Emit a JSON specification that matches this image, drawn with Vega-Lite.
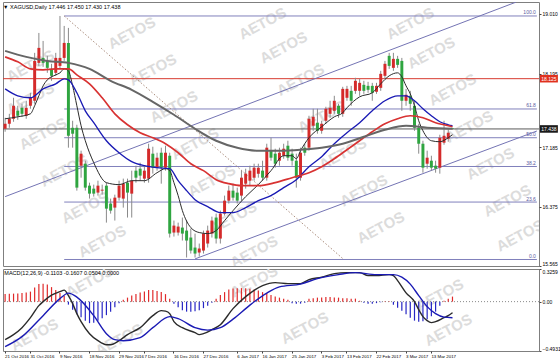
{
"$schema":"https://vega.github.io/schema/vega-lite/v6.json",
"background":"white",
"padding":{"left":0,"top":1,"right":0,"bottom":0},
"autosize":{"type":"pad"},
"spacing":1,
"config":{
 "font":"Liberation Sans",
 "view":{"stroke":"#7f7f7f","strokeWidth":1},
 "axis":{"labelFont":"Liberation Sans","labelFontSize":5,"labelColor":"#000000","tickColor":"#444444","tickSize":2,"domain":false,"grid":false,"labelPadding":1},
 "title":{"font":"Liberation Sans","fontSize":5.5,"fontWeight":"normal","color":"#000000","anchor":"start"}
},
"datasets":{
 "bars":[
{"d":"2016-10-21","o":17.441,"h":17.591,"l":17.4,"c":17.509,"m":0.075},
{"d":"2016-10-24","o":17.509,"h":17.645,"l":17.454,"c":17.577,"m":0.078},
{"d":"2016-10-25","o":17.577,"h":17.864,"l":17.536,"c":17.755,"m":0.08},
{"d":"2016-10-26","o":17.686,"h":17.755,"l":17.563,"c":17.618,"m":0.082},
{"d":"2016-10-27","o":17.727,"h":17.782,"l":17.604,"c":17.645,"m":0.085},
{"d":"2016-10-28","o":17.618,"h":17.823,"l":17.577,"c":17.727,"m":0.09},
{"d":"2016-10-31","o":17.755,"h":17.932,"l":17.714,"c":17.864,"m":0.1},
{"d":"2016-11-01","o":17.823,"h":18.478,"l":17.782,"c":18.368,"m":0.14},
{"d":"2016-11-02","o":18.341,"h":18.75,"l":18.3,"c":18.546,"m":0.175},
{"d":"2016-11-03","o":18.409,"h":18.641,"l":18.287,"c":18.341,"m":0.178},
{"d":"2016-11-04","o":18.368,"h":18.437,"l":18.205,"c":18.273,"m":0.17},
{"d":"2016-11-07","o":18.259,"h":18.328,"l":18.096,"c":18.164,"m":0.145},
{"d":"2016-11-08","o":18.205,"h":18.478,"l":18.164,"c":18.409,"m":0.115},
{"d":"2016-11-09","o":18.3,"h":18.982,"l":18.259,"c":18.409,"m":0.085},
{"d":"2016-11-10","o":18.409,"h":18.846,"l":18.368,"c":18.614,"m":0.055},
{"d":"2016-11-11","o":18.614,"h":18.819,"l":17.182,"c":17.345,"m":-0.03},
{"d":"2016-11-14","o":17.454,"h":17.55,"l":17.182,"c":17.373,"m":-0.08},
{"d":"2016-11-15","o":17.454,"h":17.495,"l":16.595,"c":16.636,"m":-0.125},
{"d":"2016-11-16","o":16.936,"h":17.141,"l":16.772,"c":17.1,"m":-0.155},
{"d":"2016-11-17","o":16.963,"h":17.004,"l":16.595,"c":16.636,"m":-0.19},
{"d":"2016-11-18","o":16.663,"h":16.704,"l":16.486,"c":16.554,"m":-0.215},
{"d":"2016-11-21","o":16.622,"h":16.677,"l":16.513,"c":16.554,"m":-0.21},
{"d":"2016-11-22","o":16.568,"h":16.731,"l":16.527,"c":16.663,"m":-0.19},
{"d":"2016-11-23","o":16.595,"h":16.677,"l":16.54,"c":16.608,"m":-0.165},
{"d":"2016-11-24","o":16.663,"h":16.704,"l":16.158,"c":16.349,"m":-0.135},
{"d":"2016-11-25","o":16.418,"h":16.486,"l":16.281,"c":16.322,"m":-0.1},
{"d":"2016-11-28","o":16.363,"h":16.54,"l":16.186,"c":16.499,"m":-0.055},
{"d":"2016-11-29","o":16.499,"h":16.731,"l":16.458,"c":16.663,"m":-0.015},
{"d":"2016-11-30","o":16.486,"h":16.759,"l":16.363,"c":16.69,"m":0.02},
{"d":"2016-12-01","o":16.704,"h":16.759,"l":16.227,"c":16.568,"m":0.04},
{"d":"2016-12-02","o":16.554,"h":16.868,"l":16.227,"c":16.731,"m":0.06},
{"d":"2016-12-05","o":16.868,"h":16.936,"l":16.704,"c":16.772,"m":0.075},
{"d":"2016-12-06","o":16.895,"h":16.977,"l":16.731,"c":16.8,"m":0.09},
{"d":"2016-12-07","o":16.759,"h":16.936,"l":16.704,"c":16.868,"m":0.1},
{"d":"2016-12-08","o":16.759,"h":17.236,"l":16.704,"c":17.168,"m":0.115},
{"d":"2016-12-09","o":17.1,"h":17.195,"l":16.827,"c":16.909,"m":0.115},
{"d":"2016-12-12","o":16.909,"h":17.113,"l":16.868,"c":17.045,"m":0.105},
{"d":"2016-12-13","o":17.113,"h":17.182,"l":16.69,"c":16.909,"m":0.095},
{"d":"2016-12-14","o":16.909,"h":17.209,"l":16.868,"c":17.113,"m":0.075},
{"d":"2016-12-15","o":17.072,"h":17.113,"l":15.954,"c":16.008,"m":0.03},
{"d":"2016-12-16","o":16.022,"h":16.186,"l":15.967,"c":16.117,"m":-0.02},
{"d":"2016-12-19","o":16.022,"h":16.158,"l":15.981,"c":16.104,"m":-0.055},
{"d":"2016-12-20","o":16.09,"h":16.227,"l":15.913,"c":16.008,"m":-0.085},
{"d":"2016-12-21","o":16.049,"h":16.186,"l":15.681,"c":15.913,"m":-0.1},
{"d":"2016-12-22","o":15.954,"h":16.076,"l":15.735,"c":15.776,"m":-0.1},
{"d":"2016-12-23","o":15.817,"h":16.008,"l":15.681,"c":15.735,"m":-0.095},
{"d":"2016-12-26","o":15.749,"h":15.872,"l":15.694,"c":15.804,"m":-0.085},
{"d":"2016-12-27","o":15.776,"h":16.049,"l":15.735,"c":16.008,"m":-0.065},
{"d":"2016-12-28","o":15.872,"h":16.117,"l":15.817,"c":16.049,"m":-0.04},
{"d":"2016-12-29","o":16.008,"h":16.24,"l":15.954,"c":16.186,"m":-0.01},
{"d":"2016-12-30","o":16.227,"h":16.281,"l":15.872,"c":15.94,"m":0.03},
{"d":"2017-01-02","o":15.94,"h":16.322,"l":15.872,"c":16.281,"m":0.065},
{"d":"2017-01-03","o":16.281,"h":16.527,"l":16.254,"c":16.458,"m":0.095},
{"d":"2017-01-04","o":16.458,"h":16.663,"l":16.418,"c":16.595,"m":0.12},
{"d":"2017-01-05","o":16.595,"h":16.69,"l":16.458,"c":16.499,"m":0.13},
{"d":"2017-01-06","o":16.568,"h":16.636,"l":16.418,"c":16.458,"m":0.133},
{"d":"2017-01-09","o":16.527,"h":16.868,"l":16.458,"c":16.772,"m":0.135},
{"d":"2017-01-10","o":16.69,"h":16.895,"l":16.622,"c":16.827,"m":0.133},
{"d":"2017-01-11","o":16.731,"h":16.936,"l":16.663,"c":16.868,"m":0.128},
{"d":"2017-01-12","o":16.772,"h":16.963,"l":16.731,"c":16.909,"m":0.12},
{"d":"2017-01-13","o":16.827,"h":16.963,"l":16.772,"c":16.909,"m":0.11},
{"d":"2017-01-16","o":16.868,"h":17.004,"l":16.731,"c":16.772,"m":0.095},
{"d":"2017-01-17","o":16.772,"h":17.236,"l":16.731,"c":17.182,"m":0.08},
{"d":"2017-01-18","o":17.141,"h":17.318,"l":17.004,"c":17.045,"m":0.065},
{"d":"2017-01-19","o":17.1,"h":17.168,"l":16.909,"c":16.963,"m":0.05},
{"d":"2017-01-20","o":17.004,"h":17.182,"l":16.936,"c":17.113,"m":0.04},
{"d":"2017-01-23","o":17.072,"h":17.236,"l":17.031,"c":17.168,"m":0.03},
{"d":"2017-01-24","o":17.209,"h":17.277,"l":17.004,"c":17.045,"m":0.02},
{"d":"2017-01-25","o":17.1,"h":17.168,"l":16.936,"c":17.004,"m":-0.015},
{"d":"2017-01-26","o":17.004,"h":17.1,"l":16.636,"c":16.772,"m":-0.02},
{"d":"2017-01-27","o":16.772,"h":17.182,"l":16.731,"c":17.113,"m":-0.02},
{"d":"2017-01-30","o":17.182,"h":17.236,"l":17.072,"c":17.113,"m":-0.01},
{"d":"2017-01-31","o":17.182,"h":17.618,"l":17.141,"c":17.577,"m":0.03},
{"d":"2017-02-01","o":17.482,"h":17.714,"l":17.413,"c":17.604,"m":0.035},
{"d":"2017-02-02","o":17.523,"h":17.714,"l":17.373,"c":17.413,"m":0.04},
{"d":"2017-02-03","o":17.413,"h":17.55,"l":17.373,"c":17.509,"m":0.04},
{"d":"2017-02-06","o":17.55,"h":17.741,"l":17.509,"c":17.714,"m":0.045},
{"d":"2017-02-07","o":17.645,"h":17.823,"l":17.591,"c":17.727,"m":0.045},
{"d":"2017-02-08","o":17.686,"h":17.891,"l":17.645,"c":17.823,"m":0.04},
{"d":"2017-02-09","o":17.755,"h":17.782,"l":17.591,"c":17.645,"m":0.04},
{"d":"2017-02-10","o":17.645,"h":18.014,"l":17.604,"c":17.986,"m":0.035},
{"d":"2017-02-13","o":17.864,"h":18.027,"l":17.823,"c":17.986,"m":0.035},
{"d":"2017-02-14","o":17.959,"h":18.027,"l":17.755,"c":17.823,"m":0.03},
{"d":"2017-02-15","o":17.959,"h":18.137,"l":17.918,"c":18.096,"m":0.03},
{"d":"2017-02-16","o":17.959,"h":18.123,"l":17.891,"c":18.068,"m":0.01},
{"d":"2017-02-17","o":18.041,"h":18.096,"l":17.918,"c":17.959,"m":-0.01},
{"d":"2017-02-20","o":18.027,"h":18.082,"l":17.932,"c":17.973,"m":-0.02},
{"d":"2017-02-21","o":18.027,"h":18.068,"l":17.823,"c":17.932,"m":-0.02},
{"d":"2017-02-22","o":17.946,"h":18.068,"l":17.918,"c":18.027,"m":-0.015},
{"d":"2017-02-23","o":18.0,"h":18.232,"l":17.959,"c":18.191,"m":-0.005},
{"d":"2017-02-24","o":18.164,"h":18.368,"l":18.123,"c":18.328,"m":0.004},
{"d":"2017-02-27","o":18.437,"h":18.478,"l":18.259,"c":18.3,"m":0.003},
{"d":"2017-02-28","o":18.273,"h":18.478,"l":18.232,"c":18.396,"m":-0.03},
{"d":"2017-03-01","o":18.396,"h":18.437,"l":18.273,"c":18.314,"m":-0.06},
{"d":"2017-03-02","o":18.368,"h":18.409,"l":17.686,"c":17.823,"m":-0.09},
{"d":"2017-03-03","o":17.823,"h":17.986,"l":17.755,"c":17.905,"m":-0.125},
{"d":"2017-03-06","o":17.891,"h":17.959,"l":17.686,"c":17.782,"m":-0.16},
{"d":"2017-03-07","o":17.755,"h":17.823,"l":17.413,"c":17.454,"m":-0.19},
{"d":"2017-03-08","o":17.454,"h":17.509,"l":17.1,"c":17.236,"m":-0.2},
{"d":"2017-03-09","o":17.236,"h":17.277,"l":16.84,"c":16.909,"m":-0.195},
{"d":"2017-03-10","o":16.963,"h":17.141,"l":16.895,"c":17.045,"m":-0.175},
{"d":"2017-03-13","o":17.004,"h":17.072,"l":16.868,"c":16.909,"m":-0.145},
{"d":"2017-03-14","o":16.936,"h":17.004,"l":16.84,"c":16.895,"m":-0.1},
{"d":"2017-03-15","o":16.909,"h":17.359,"l":16.827,"c":17.318,"m":-0.04},
{"d":"2017-03-16","o":17.25,"h":17.55,"l":17.222,"c":17.345,"m":0.01},
{"d":"2017-03-17","o":17.304,"h":17.441,"l":17.263,"c":17.386,"m":0.03},
{"d":"2017-03-20","o":17.446,"h":17.45,"l":17.43,"c":17.438,"m":0.0504}
 ],
 "ma":[
{"d":"2016-10-21","m":"ma1","p":17.577},{"d":"2016-10-26","m":"ma1","p":17.604},{"d":"2016-10-31","m":"ma1","p":17.645},{"d":"2016-11-01","m":"ma1","p":17.755},{"d":"2016-11-02","m":"ma1","p":17.891},{"d":"2016-11-03","m":"ma1","p":18.027},{"d":"2016-11-04","m":"ma1","p":18.109},{"d":"2016-11-08","m":"ma1","p":18.177},{"d":"2016-11-09","m":"ma1","p":18.205},{"d":"2016-11-10","m":"ma1","p":18.259},{"d":"2016-11-11","m":"ma1","p":18.232},{"d":"2016-11-14","m":"ma1","p":18.027},{"d":"2016-11-15","m":"ma1","p":17.755},{"d":"2016-11-16","m":"ma1","p":17.482},{"d":"2016-11-17","m":"ma1","p":17.277},{"d":"2016-11-21","m":"ma1","p":16.977},{"d":"2016-11-24","m":"ma1","p":16.704},{"d":"2016-11-29","m":"ma1","p":16.677},{"d":"2016-12-02","m":"ma1","p":16.731},{"d":"2016-12-07","m":"ma1","p":16.731},{"d":"2016-12-12","m":"ma1","p":16.84},{"d":"2016-12-14","m":"ma1","p":16.895},{"d":"2016-12-15","m":"ma1","p":16.868},{"d":"2016-12-16","m":"ma1","p":16.704},{"d":"2016-12-19","m":"ma1","p":16.527},{"d":"2016-12-20","m":"ma1","p":16.322},{"d":"2016-12-22","m":"ma1","p":16.09},{"d":"2016-12-26","m":"ma1","p":16.022},{"d":"2016-12-28","m":"ma1","p":16.008},{"d":"2016-12-30","m":"ma1","p":16.049},{"d":"2017-01-03","m":"ma1","p":16.186},{"d":"2017-01-05","m":"ma1","p":16.322},{"d":"2017-01-10","m":"ma1","p":16.513},{"d":"2017-01-13","m":"ma1","p":16.677},{"d":"2017-01-18","m":"ma1","p":16.868},{"d":"2017-01-23","m":"ma1","p":17.072},{"d":"2017-01-25","m":"ma1","p":17.072},{"d":"2017-01-26","m":"ma1","p":17.031},{"d":"2017-01-27","m":"ma1","p":17.141},{"d":"2017-01-31","m":"ma1","p":17.318},{"d":"2017-02-03","m":"ma1","p":17.468},{"d":"2017-02-08","m":"ma1","p":17.604},{"d":"2017-02-10","m":"ma1","p":17.659},{"d":"2017-02-13","m":"ma1","p":17.727},{"d":"2017-02-16","m":"ma1","p":17.877},{"d":"2017-02-21","m":"ma1","p":17.932},{"d":"2017-02-23","m":"ma1","p":18.055},{"d":"2017-02-27","m":"ma1","p":18.164},{"d":"2017-03-01","m":"ma1","p":18.205},{"d":"2017-03-02","m":"ma1","p":18.15},{"d":"2017-03-03","m":"ma1","p":18.027},{"d":"2017-03-06","m":"ma1","p":17.918},{"d":"2017-03-07","m":"ma1","p":17.755},{"d":"2017-03-08","m":"ma1","p":17.55},{"d":"2017-03-09","m":"ma1","p":17.413},{"d":"2017-03-13","m":"ma1","p":17.277},{"d":"2017-03-15","m":"ma1","p":17.263},{"d":"2017-03-17","m":"ma1","p":17.318},{"d":"2017-03-20","m":"ma1","p":17.359},
{"d":"2016-10-21","m":"ma2","p":17.986},{"d":"2016-10-26","m":"ma2","p":17.891},{"d":"2016-10-31","m":"ma2","p":17.864},{"d":"2016-11-03","m":"ma2","p":17.986},{"d":"2016-11-08","m":"ma2","p":18.055},{"d":"2016-11-10","m":"ma2","p":18.123},{"d":"2016-11-11","m":"ma2","p":18.109},{"d":"2016-11-15","m":"ma2","p":17.932},{"d":"2016-11-17","m":"ma2","p":17.686},{"d":"2016-11-21","m":"ma2","p":17.523},{"d":"2016-11-24","m":"ma2","p":17.277},{"d":"2016-11-29","m":"ma2","p":17.113},{"d":"2016-12-02","m":"ma2","p":16.991},{"d":"2016-12-07","m":"ma2","p":16.936},{"d":"2016-12-12","m":"ma2","p":16.909},{"d":"2016-12-15","m":"ma2","p":16.895},{"d":"2016-12-19","m":"ma2","p":16.731},{"d":"2016-12-21","m":"ma2","p":16.595},{"d":"2016-12-23","m":"ma2","p":16.472},{"d":"2016-12-28","m":"ma2","p":16.377},{"d":"2017-01-02","m":"ma2","p":16.295},{"d":"2017-01-05","m":"ma2","p":16.295},{"d":"2017-01-10","m":"ma2","p":16.363},{"d":"2017-01-13","m":"ma2","p":16.458},{"d":"2017-01-18","m":"ma2","p":16.527},{"d":"2017-01-23","m":"ma2","p":16.636},{"d":"2017-01-26","m":"ma2","p":16.745},{"d":"2017-01-31","m":"ma2","p":16.922},{"d":"2017-02-03","m":"ma2","p":17.059},{"d":"2017-02-08","m":"ma2","p":17.236},{"d":"2017-02-13","m":"ma2","p":17.386},{"d":"2017-02-16","m":"ma2","p":17.523},{"d":"2017-02-21","m":"ma2","p":17.686},{"d":"2017-02-24","m":"ma2","p":17.823},{"d":"2017-03-01","m":"ma2","p":17.891},{"d":"2017-03-03","m":"ma2","p":17.891},{"d":"2017-03-07","m":"ma2","p":17.823},{"d":"2017-03-09","m":"ma2","p":17.714},{"d":"2017-03-13","m":"ma2","p":17.618},{"d":"2017-03-15","m":"ma2","p":17.536},{"d":"2017-03-17","m":"ma2","p":17.495},{"d":"2017-03-20","m":"ma2","p":17.482},
{"d":"2016-10-21","m":"ma3","p":18.423},{"d":"2016-10-26","m":"ma3","p":18.355},{"d":"2016-10-31","m":"ma3","p":18.259},{"d":"2016-11-03","m":"ma3","p":18.246},{"d":"2016-11-08","m":"ma3","p":18.259},{"d":"2016-11-11","m":"ma3","p":18.259},{"d":"2016-11-15","m":"ma3","p":18.177},{"d":"2016-11-18","m":"ma3","p":18.055},{"d":"2016-11-23","m":"ma3","p":17.864},{"d":"2016-11-28","m":"ma3","p":17.645},{"d":"2016-12-01","m":"ma3","p":17.495},{"d":"2016-12-06","m":"ma3","p":17.386},{"d":"2016-12-09","m":"ma3","p":17.318},{"d":"2016-12-14","m":"ma3","p":17.236},{"d":"2016-12-19","m":"ma3","p":17.113},{"d":"2016-12-22","m":"ma3","p":16.963},{"d":"2016-12-27","m":"ma3","p":16.868},{"d":"2016-12-30","m":"ma3","p":16.745},{"d":"2017-01-04","m":"ma3","p":16.69},{"d":"2017-01-09","m":"ma3","p":16.663},{"d":"2017-01-13","m":"ma3","p":16.663},{"d":"2017-01-19","m":"ma3","p":16.704},{"d":"2017-01-25","m":"ma3","p":16.772},{"d":"2017-01-31","m":"ma3","p":16.84},{"d":"2017-02-03","m":"ma3","p":16.922},{"d":"2017-02-08","m":"ma3","p":17.031},{"d":"2017-02-13","m":"ma3","p":17.154},{"d":"2017-02-16","m":"ma3","p":17.277},{"d":"2017-02-21","m":"ma3","p":17.4},{"d":"2017-02-24","m":"ma3","p":17.509},{"d":"2017-03-01","m":"ma3","p":17.577},{"d":"2017-03-06","m":"ma3","p":17.618},{"d":"2017-03-09","m":"ma3","p":17.591},{"d":"2017-03-14","m":"ma3","p":17.523},{"d":"2017-03-16","m":"ma3","p":17.495},{"d":"2017-03-20","m":"ma3","p":17.468},
{"d":"2016-10-21","m":"ma4","p":18.505},{"d":"2016-10-28","m":"ma4","p":18.423},{"d":"2016-11-04","m":"ma4","p":18.368},{"d":"2016-11-11","m":"ma4","p":18.341},{"d":"2016-11-18","m":"ma4","p":18.259},{"d":"2016-11-25","m":"ma4","p":18.096},{"d":"2016-12-02","m":"ma4","p":17.973},{"d":"2016-12-09","m":"ma4","p":17.809},{"d":"2016-12-16","m":"ma4","p":17.632},{"d":"2016-12-23","m":"ma4","p":17.441},{"d":"2016-12-30","m":"ma4","p":17.277},{"d":"2017-01-06","m":"ma4","p":17.182},{"d":"2017-01-13","m":"ma4","p":17.141},{"d":"2017-01-20","m":"ma4","p":17.141},{"d":"2017-01-27","m":"ma4","p":17.154},{"d":"2017-02-03","m":"ma4","p":17.182},{"d":"2017-02-10","m":"ma4","p":17.236},{"d":"2017-02-17","m":"ma4","p":17.332},{"d":"2017-02-24","m":"ma4","p":17.427},{"d":"2017-03-03","m":"ma4","p":17.482},{"d":"2017-03-10","m":"ma4","p":17.454},{"d":"2017-03-20","m":"ma4","p":17.441}
 ],
 "ml":[
{"d":"2016-10-21","s":"MACD","v":-0.38},{"d":"2016-10-25","s":"MACD","v":-0.33},{"d":"2016-10-27","s":"MACD","v":-0.26},{"d":"2016-10-31","s":"MACD","v":-0.16},{"d":"2016-11-02","s":"MACD","v":-0.04},{"d":"2016-11-03","s":"MACD","v":0.0},{"d":"2016-11-07","s":"MACD","v":0.065},{"d":"2016-11-09","s":"MACD","v":0.1},{"d":"2016-11-10","s":"MACD","v":0.115},{"d":"2016-11-11","s":"MACD","v":0.06},{"d":"2016-11-14","s":"MACD","v":-0.02},{"d":"2016-11-15","s":"MACD","v":-0.12},{"d":"2016-11-16","s":"MACD","v":-0.2},{"d":"2016-11-18","s":"MACD","v":-0.32},{"d":"2016-11-22","s":"MACD","v":-0.39},{"d":"2016-11-24","s":"MACD","v":-0.43},{"d":"2016-11-25","s":"MACD","v":-0.43},{"d":"2016-11-29","s":"MACD","v":-0.39},{"d":"2016-12-01","s":"MACD","v":-0.33},{"d":"2016-12-06","s":"MACD","v":-0.26},{"d":"2016-12-09","s":"MACD","v":-0.14},{"d":"2016-12-13","s":"MACD","v":-0.09},{"d":"2016-12-14","s":"MACD","v":-0.095},{"d":"2016-12-15","s":"MACD","v":-0.12},{"d":"2016-12-16","s":"MACD","v":-0.2},{"d":"2016-12-20","s":"MACD","v":-0.26},{"d":"2016-12-23","s":"MACD","v":-0.31},{"d":"2016-12-26","s":"MACD","v":-0.33},{"d":"2016-12-27","s":"MACD","v":-0.32},{"d":"2016-12-29","s":"MACD","v":-0.28},{"d":"2017-01-02","s":"MACD","v":-0.23},{"d":"2017-01-05","s":"MACD","v":-0.07},{"d":"2017-01-10","s":"MACD","v":0.05},{"d":"2017-01-16","s":"MACD","v":0.16},{"d":"2017-01-19","s":"MACD","v":0.19},{"d":"2017-01-24","s":"MACD","v":0.18},{"d":"2017-01-27","s":"MACD","v":0.18},{"d":"2017-01-31","s":"MACD","v":0.22},{"d":"2017-02-03","s":"MACD","v":0.245},{"d":"2017-02-08","s":"MACD","v":0.28},{"d":"2017-02-13","s":"MACD","v":0.29},{"d":"2017-02-16","s":"MACD","v":0.29},{"d":"2017-02-20","s":"MACD","v":0.26},{"d":"2017-02-22","s":"MACD","v":0.26},{"d":"2017-02-27","s":"MACD","v":0.27},{"d":"2017-02-28","s":"MACD","v":0.26},{"d":"2017-03-01","s":"MACD","v":0.21},{"d":"2017-03-03","s":"MACD","v":0.088},{"d":"2017-03-07","s":"MACD","v":0.0},{"d":"2017-03-08","s":"MACD","v":-0.08},{"d":"2017-03-09","s":"MACD","v":-0.15},{"d":"2017-03-10","s":"MACD","v":-0.19},{"d":"2017-03-13","s":"MACD","v":-0.21},{"d":"2017-03-14","s":"MACD","v":-0.2},{"d":"2017-03-16","s":"MACD","v":-0.16},{"d":"2017-03-17","s":"MACD","v":-0.14},{"d":"2017-03-20","s":"MACD","v":-0.1103},
{"d":"2016-10-21","s":"Signal","v":-0.45},{"d":"2016-10-27","s":"Signal","v":-0.35},{"d":"2016-11-03","s":"Signal","v":-0.14},{"d":"2016-11-09","s":"Signal","v":0.03},{"d":"2016-11-11","s":"Signal","v":0.085},{"d":"2016-11-15","s":"Signal","v":0.045},{"d":"2016-11-21","s":"Signal","v":-0.14},{"d":"2016-11-24","s":"Signal","v":-0.32},{"d":"2016-11-28","s":"Signal","v":-0.38},{"d":"2016-11-30","s":"Signal","v":-0.39},{"d":"2016-12-06","s":"Signal","v":-0.36},{"d":"2016-12-09","s":"Signal","v":-0.26},{"d":"2016-12-15","s":"Signal","v":-0.15},{"d":"2016-12-19","s":"Signal","v":-0.17},{"d":"2016-12-23","s":"Signal","v":-0.26},{"d":"2016-12-28","s":"Signal","v":-0.285},{"d":"2017-01-02","s":"Signal","v":-0.26},{"d":"2017-01-05","s":"Signal","v":-0.175},{"d":"2017-01-11","s":"Signal","v":-0.035},{"d":"2017-01-17","s":"Signal","v":0.085},{"d":"2017-01-20","s":"Signal","v":0.147},{"d":"2017-01-27","s":"Signal","v":0.175},{"d":"2017-02-02","s":"Signal","v":0.23},{"d":"2017-02-09","s":"Signal","v":0.27},{"d":"2017-02-15","s":"Signal","v":0.29},{"d":"2017-02-22","s":"Signal","v":0.27},{"d":"2017-02-28","s":"Signal","v":0.27},{"d":"2017-03-02","s":"Signal","v":0.245},{"d":"2017-03-06","s":"Signal","v":0.175},{"d":"2017-03-08","s":"Signal","v":0.06},{"d":"2017-03-10","s":"Signal","v":-0.05},{"d":"2017-03-14","s":"Signal","v":-0.12},{"d":"2017-03-16","s":"Signal","v":-0.155},{"d":"2017-03-20","s":"Signal","v":-0.1607}
 ],
 "fib":[
{"d":"2016-11-10","d2":"2017-04-17","p":18.982,"t":"100.0"},
{"d":"2016-11-10","d2":"2017-04-17","p":17.711,"t":"61.8"},
{"d":"2016-11-10","d2":"2017-04-17","p":17.318,"t":"50.0"},
{"d":"2016-11-10","d2":"2017-04-17","p":16.925,"t":"38.2"},
{"d":"2016-11-10","d2":"2017-04-17","p":16.439,"t":"23.6"},
{"d":"2016-11-10","d2":"2017-04-17","p":15.654,"t":"0.0"}
 ],
 "chan":[
{"d":"2016-10-21","p":16.513,"d2":"2017-04-10","p2":19.17},
{"d":"2016-12-23","p":15.662,"d2":"2017-04-17","p2":17.41}
 ],
 "trend":[
{"d":"2016-11-10","p":18.982,"d2":"2017-02-10","p2":15.667}
 ],
 "lv":[{"p":18.125,"kind":"level"},{"p":17.438,"kind":"bid"}],
 "zero":[{"v":0}],
 "wm":[
{"d":"2016-10-31","p":18.3,"t":"AETOS"},{"d":"2016-10-31","p":17.85,"t":"AETOS"},{"d":"2016-11-03","p":17.373,"t":"AETOS"},{"d":"2016-11-10","p":16.868,"t":"AETOS"},{"d":"2016-11-17","p":16.363,"t":"AETOS"},{"d":"2016-11-23","p":15.9,"t":"AETOS"},
{"d":"2016-12-02","p":18.75,"t":"AETOS"},{"d":"2016-12-09","p":18.246,"t":"AETOS"},{"d":"2016-12-16","p":17.741,"t":"AETOS"},{"d":"2016-12-23","p":17.236,"t":"AETOS"},{"d":"2016-12-29","p":16.731,"t":"AETOS"},{"d":"2017-01-05","p":16.227,"t":"AETOS"},{"d":"2017-01-12","p":15.76,"t":"AETOS"},
{"d":"2017-01-16","p":18.88,"t":"AETOS"},{"d":"2017-01-23","p":18.55,"t":"AETOS"},{"d":"2017-01-27","p":18.109,"t":"AETOS"},{"d":"2017-02-03","p":17.604,"t":"AETOS"},{"d":"2017-02-10","p":17.1,"t":"AETOS"},{"d":"2017-02-17","p":16.595,"t":"AETOS"},{"d":"2017-02-23","p":16.09,"t":"AETOS"},
{"d":"2017-03-06","p":18.88,"t":"AETOS"},{"d":"2017-03-13","p":18.478,"t":"AETOS"},{"d":"2017-03-20","p":17.973,"t":"AETOS"},{"d":"2017-03-24","p":17.468,"t":"AETOS"},{"d":"2017-03-31","p":16.963,"t":"AETOS"},{"d":"2017-04-06","p":16.458,"t":"AETOS"},{"d":"2017-04-11","p":15.98,"t":"AETOS"}
 ],
 "wm2":[
{"d":"2016-11-01","v":-0.33,"t":"AETOS"},{"d":"2016-11-18","v":0.2,"t":"AETOS"},{"d":"2016-11-29","v":-0.38,"t":"AETOS"},{"d":"2017-01-12","v":0.2,"t":"AETOS"},{"d":"2017-01-30","v":-0.263,"t":"AETOS"},{"d":"2017-03-15","v":0.066,"t":"AETOS"},{"d":"2017-03-17","v":-0.283,"t":"AETOS"}
 ]
},
"vconcat":[
{
 "width":536,"height":264,
 "title":{"text":"▼ XAGUSD,Daily  17.446 17.450 17.430 17.438","orient":"top","anchor":"start","offset":-8,"baseline":"top","dx":2},
 "layer":[
  {"data":{"name":"wm"},
   "mark":{"type":"text","angle":-28,"fontSize":15,"fontWeight":"bold","color":"#dcdcdc","clip":true,"font":"Liberation Sans"},
   "encoding":{
    "x":{"field":"d","type":"ordinal","scale":{"type":"band","paddingInner":0,"paddingOuter":0,"domain":["2016-10-21","2016-10-24","2016-10-25","2016-10-26","2016-10-27","2016-10-28","2016-10-31","2016-11-01","2016-11-02","2016-11-03","2016-11-04","2016-11-07","2016-11-08","2016-11-09","2016-11-10","2016-11-11","2016-11-14","2016-11-15","2016-11-16","2016-11-17","2016-11-18","2016-11-21","2016-11-22","2016-11-23","2016-11-24","2016-11-25","2016-11-28","2016-11-29","2016-11-30","2016-12-01","2016-12-02","2016-12-05","2016-12-06","2016-12-07","2016-12-08","2016-12-09","2016-12-12","2016-12-13","2016-12-14","2016-12-15","2016-12-16","2016-12-19","2016-12-20","2016-12-21","2016-12-22","2016-12-23","2016-12-26","2016-12-27","2016-12-28","2016-12-29","2016-12-30","2017-01-02","2017-01-03","2017-01-04","2017-01-05","2017-01-06","2017-01-09","2017-01-10","2017-01-11","2017-01-12","2017-01-13","2017-01-16","2017-01-17","2017-01-18","2017-01-19","2017-01-20","2017-01-23","2017-01-24","2017-01-25","2017-01-26","2017-01-27","2017-01-30","2017-01-31","2017-02-01","2017-02-02","2017-02-03","2017-02-06","2017-02-07","2017-02-08","2017-02-09","2017-02-10","2017-02-13","2017-02-14","2017-02-15","2017-02-16","2017-02-17","2017-02-20","2017-02-21","2017-02-22","2017-02-23","2017-02-24","2017-02-27","2017-02-28","2017-03-01","2017-03-02","2017-03-03","2017-03-06","2017-03-07","2017-03-08","2017-03-09","2017-03-10","2017-03-13","2017-03-14","2017-03-15","2017-03-16","2017-03-17","2017-03-20","2017-03-21","2017-03-22","2017-03-23","2017-03-24","2017-03-27","2017-03-28","2017-03-29","2017-03-30","2017-03-31","2017-04-03","2017-04-04","2017-04-05","2017-04-06","2017-04-07","2017-04-10","2017-04-11","2017-04-12","2017-04-13","2017-04-14","2017-04-17"]},"axis":null},
    "y":{"field":"p","type":"quantitative","scale":{"domain":[15.565,19.173],"nice":false,"zero":false},
         "axis":{"orient":"right","title":null,"values":[19.01,18.805,18.6,18.4,18.195,17.995,17.79,17.59,17.185,16.985,16.78,16.58,16.375,16.175,15.97,15.765,15.565],"format":".3f","labelFlush":true}},
    "text":{"field":"t"}}},
  {"data":{"name":"fib"},"mark":{"type":"rule","color":"#8080bc","strokeWidth":1},
   "encoding":{"x":{"field":"d","type":"ordinal"},"x2":{"field":"d2"},"y":{"field":"p","type":"quantitative"}}},
  {"data":{"name":"fib"},"mark":{"type":"text","align":"right","baseline":"bottom","dx":-1,"dy":-0.5,"fontSize":5,"color":"#5a5aa0"},
   "encoding":{"x":{"field":"d2","type":"ordinal"},"y":{"field":"p","type":"quantitative"},"text":{"field":"t"}}},
  {"data":{"name":"lv"},"mark":{"type":"rule","strokeWidth":1},
   "encoding":{"y":{"field":"p","type":"quantitative"},"color":{"condition":{"test":"datum.kind=='level'","value":"#d83a30"},"value":"#5a5a5a"}}},
  {"data":{"name":"chan"},"mark":{"type":"rule","color":"#7474b4","strokeWidth":1,"clip":true},
   "encoding":{"x":{"field":"d","type":"ordinal"},"x2":{"field":"d2"},"y":{"field":"p","type":"quantitative"},"y2":{"field":"p2"}}},
  {"data":{"name":"trend"},"mark":{"type":"rule","color":"#a88a7a","strokeWidth":1,"strokeDash":[1.5,2],"clip":true},
   "encoding":{"x":{"field":"d","type":"ordinal"},"x2":{"field":"d2"},"y":{"field":"p","type":"quantitative"},"y2":{"field":"p2"}}},
  {"data":{"name":"bars"},"mark":{"type":"rule","color":"#8a8a8a","strokeWidth":1},
   "encoding":{"x":{"field":"d","type":"ordinal"},"y":{"field":"l","type":"quantitative"},"y2":{"field":"h"}}},
  {"data":{"name":"bars"},"mark":{"type":"bar","width":{"band":0.7}},
   "encoding":{"x":{"field":"d","type":"ordinal"},"y":{"field":"o","type":"quantitative"},"y2":{"field":"c"},
    "color":{"condition":{"test":"datum.c >= datum.o","value":"#d42a2a"},"value":"#2fa540"}}},
  {"data":{"name":"ma"},"mark":{"type":"line","interpolate":"monotone"},
   "encoding":{"x":{"field":"d","type":"ordinal"},"y":{"field":"p","type":"quantitative"},
    "color":{"field":"m","type":"nominal","scale":{"domain":["ma1","ma2","ma3","ma4"],"range":["#2b2b2b","#1a1ab4","#d83232","#666666"]},"legend":null},
    "strokeWidth":{"field":"m","type":"nominal","scale":{"domain":["ma1","ma2","ma3","ma4"],"range":[1,2,1.5,1.3]},"legend":null}}},
  {"data":{"name":"lv"},"mark":{"type":"point","shape":"M-1,-0.42H1V0.42H-1Z","filled":true,"size":324,"xOffset":12,"opacity":1},
   "encoding":{"x":{"datum":"2017-04-17","type":"ordinal"},"y":{"field":"p","type":"quantitative"},
    "color":{"condition":{"test":"datum.kind=='level'","value":"#e0301e"},"value":"#1a1a1a"}}},
  {"data":{"name":"lv"},"mark":{"type":"text","dx":12,"fontSize":5,"color":"#ffffff","align":"center","baseline":"middle"},
   "encoding":{"x":{"datum":"2017-04-17","type":"ordinal"},"y":{"field":"p","type":"quantitative"},"text":{"field":"p","format":".3f"}}}
 ]
},
{
 "width":536,"height":82,
 "title":{"text":"MACD(12,26,9) -0.1103 -0.1607 0.0504 0.0000","orient":"top","anchor":"start","offset":-8,"baseline":"top","dx":2},
 "layer":[
  {"data":{"name":"wm2"},
   "mark":{"type":"text","angle":-28,"fontSize":15,"fontWeight":"bold","color":"#dcdcdc","clip":true,"font":"Liberation Sans"},
   "encoding":{
    "x":{"field":"d","type":"ordinal","scale":{"type":"band","paddingInner":0,"paddingOuter":0,"domain":["2016-10-21","2016-10-24","2016-10-25","2016-10-26","2016-10-27","2016-10-28","2016-10-31","2016-11-01","2016-11-02","2016-11-03","2016-11-04","2016-11-07","2016-11-08","2016-11-09","2016-11-10","2016-11-11","2016-11-14","2016-11-15","2016-11-16","2016-11-17","2016-11-18","2016-11-21","2016-11-22","2016-11-23","2016-11-24","2016-11-25","2016-11-28","2016-11-29","2016-11-30","2016-12-01","2016-12-02","2016-12-05","2016-12-06","2016-12-07","2016-12-08","2016-12-09","2016-12-12","2016-12-13","2016-12-14","2016-12-15","2016-12-16","2016-12-19","2016-12-20","2016-12-21","2016-12-22","2016-12-23","2016-12-26","2016-12-27","2016-12-28","2016-12-29","2016-12-30","2017-01-02","2017-01-03","2017-01-04","2017-01-05","2017-01-06","2017-01-09","2017-01-10","2017-01-11","2017-01-12","2017-01-13","2017-01-16","2017-01-17","2017-01-18","2017-01-19","2017-01-20","2017-01-23","2017-01-24","2017-01-25","2017-01-26","2017-01-27","2017-01-30","2017-01-31","2017-02-01","2017-02-02","2017-02-03","2017-02-06","2017-02-07","2017-02-08","2017-02-09","2017-02-10","2017-02-13","2017-02-14","2017-02-15","2017-02-16","2017-02-17","2017-02-20","2017-02-21","2017-02-22","2017-02-23","2017-02-24","2017-02-27","2017-02-28","2017-03-01","2017-03-02","2017-03-03","2017-03-06","2017-03-07","2017-03-08","2017-03-09","2017-03-10","2017-03-13","2017-03-14","2017-03-15","2017-03-16","2017-03-17","2017-03-20","2017-03-21","2017-03-22","2017-03-23","2017-03-24","2017-03-27","2017-03-28","2017-03-29","2017-03-30","2017-03-31","2017-04-03","2017-04-04","2017-04-05","2017-04-06","2017-04-07","2017-04-10","2017-04-11","2017-04-12","2017-04-13","2017-04-14","2017-04-17"]},
     "axis":{"orient":"bottom","title":null,"bandPosition":0.5,"values":["2016-10-21","2016-10-31","2016-11-09","2016-11-18","2016-11-29","2016-12-07","2016-12-16","2016-12-27","2017-01-06","2017-01-16","2017-01-25","2017-02-03","2017-02-13","2017-02-22","2017-03-03","2017-03-13"],
      "labelExpr":"utcFormat(utcParse(datum.value,'%Y-%m-%d'),'%-d %b %Y')","labelAlign":"left","labelAngle":0,"labelOverlap":false,"labelFlush":false,"labelPadding":1,"labelFontSize":4.4}},
    "y":{"field":"v","type":"quantitative","scale":{"domain":[-0.4931,0.3259],"nice":false,"zero":false},
         "axis":{"orient":"right","title":null,"values":[0.3259,0,-0.4931],"labelExpr":"datum.value == 0 ? '0.00' : format(datum.value, '.4f')","labelFlush":true}},
    "text":{"field":"t"}}},
  {"data":{"name":"zero"},"mark":{"type":"rule","color":"#8a8a8a","strokeDash":[1,2],"strokeWidth":1},
   "encoding":{"y":{"field":"v","type":"quantitative"}}},
  {"data":{"name":"bars"},"mark":{"type":"rule","strokeWidth":1.2},
   "encoding":{"x":{"field":"d","type":"ordinal"},"y":{"field":"m","type":"quantitative"},"y2":{"datum":0},
    "color":{"condition":{"test":"datum.m > 0","value":"#e02a2a"},"value":"#2626c4"}}},
  {"data":{"name":"ml"},"mark":{"type":"line","interpolate":"monotone","strokeWidth":1.4},
   "encoding":{"x":{"field":"d","type":"ordinal"},"y":{"field":"v","type":"quantitative"},
    "color":{"field":"s","type":"nominal","scale":{"domain":["MACD","Signal"],"range":["#2a2ac0","#e0302a"]},"legend":null}}}
 ]
}
]
}
